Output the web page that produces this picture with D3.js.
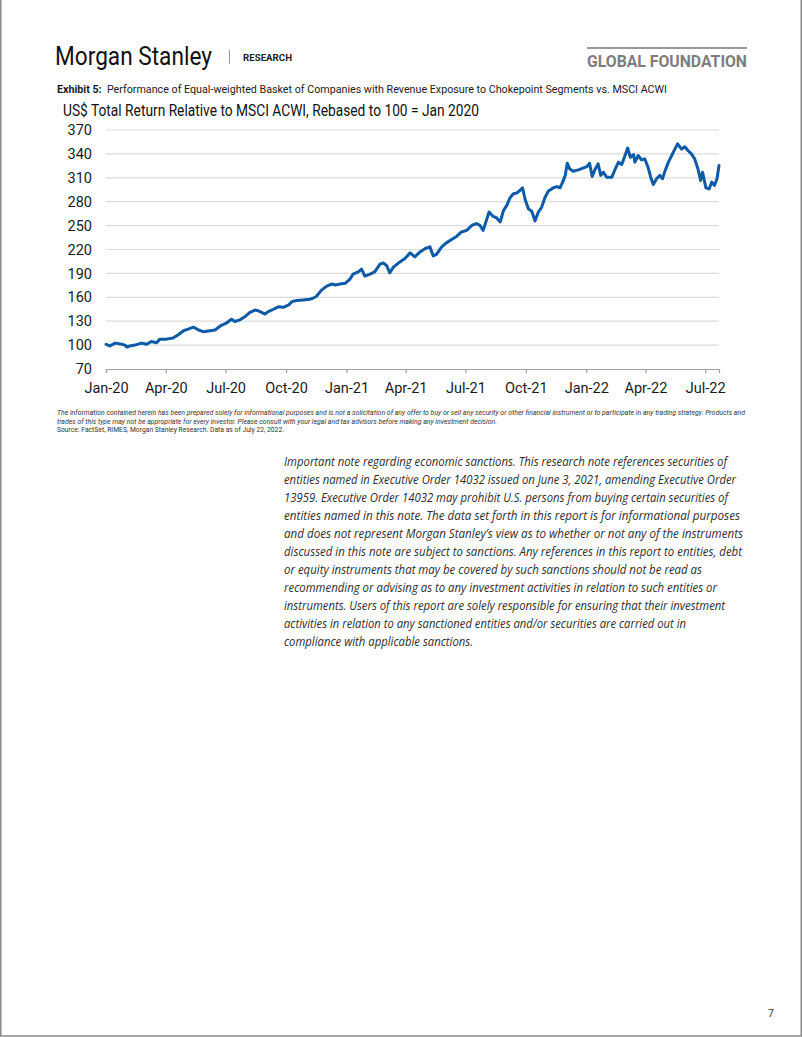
<!DOCTYPE html>
<html><head><meta charset="utf-8">
<script src="https://cdn.jsdelivr.net/npm/d3@7"></script>
<style>
html,body{margin:0;padding:0;background:#fff;}
svg{display:block;}
</style></head>
<body><svg id="page" width="802" height="1037"></svg>
<script>
const dates = ["2020-01-01","2020-01-07","2020-01-15","2020-01-25","2020-01-30","2020-02-02","2020-02-06","2020-02-14","2020-02-24","2020-03-03","2020-03-10","2020-03-18","2020-03-23","2020-04-02","2020-04-12","2020-04-20","2020-04-28","2020-05-05","2020-05-13","2020-05-21","2020-05-29","2020-06-07","2020-06-15","2020-06-23","2020-07-02","2020-07-10","2020-07-15","2020-07-23","2020-07-31","2020-08-07","2020-08-15","2020-08-20","2020-08-30","2020-09-04","2020-09-12","2020-09-19","2020-09-27","2020-10-05","2020-10-10","2020-10-17","2020-10-27","2020-11-06","2020-11-11","2020-11-16","2020-11-24","2020-12-02","2020-12-10","2020-12-15","2020-12-22","2020-12-30","2021-01-06","2021-01-11","2021-01-19","2021-01-24","2021-01-29","2021-02-06","2021-02-13","2021-02-21","2021-02-26","2021-03-03","2021-03-08","2021-03-13","2021-03-21","2021-03-31","2021-04-08","2021-04-15","2021-04-23","2021-05-01","2021-05-08","2021-05-13","2021-05-18","2021-05-26","2021-06-02","2021-06-10","2021-06-18","2021-06-25","2021-07-03","2021-07-11","2021-07-18","2021-07-23","2021-07-28","2021-08-02","2021-08-06","2021-08-12","2021-08-17","2021-08-23","2021-08-28","2021-09-02","2021-09-07","2021-09-12","2021-09-17","2021-09-22","2021-09-26","2021-09-30","2021-10-05","2021-10-10","2021-10-15","2021-10-20","2021-10-25","2021-10-30","2021-11-04","2021-11-12","2021-11-17","2021-11-22","2021-11-26","2021-11-30","2021-12-03","2021-12-07","2021-12-12","2021-12-20","2021-12-28","2022-01-02","2022-01-06","2022-01-10","2022-01-14","2022-01-19","2022-01-23","2022-01-27","2022-02-01","2022-02-09","2022-02-14","2022-02-19","2022-02-24","2022-03-01","2022-03-05","2022-03-09","2022-03-14","2022-03-16","2022-03-21","2022-03-26","2022-03-31","2022-04-05","2022-04-09","2022-04-13","2022-04-18","2022-04-23","2022-04-27","2022-05-01","2022-05-06","2022-05-11","2022-05-16","2022-05-20","2022-05-26","2022-05-31","2022-06-05","2022-06-10","2022-06-15","2022-06-20","2022-06-24","2022-06-27","2022-07-02","2022-07-07","2022-07-11","2022-07-15","2022-07-19","2022-07-22"];
const values = [101,99,102.5,101,100,97.5,99,100,102.5,101,104.6,103,107.5,107.5,109,113,118,120,122.5,119,116.7,118,119,124,127.5,132.5,129.6,131.7,136,141,144,143,139,142,145,148,147.5,150.4,154.6,156,156.7,157.5,158.8,161,169,174,176.7,175.4,176.7,177.5,182.5,189,192,195.4,186.7,189,192,201.7,203,200,190.8,197.5,203,208.7,215.8,210.8,217,221.3,223.3,212,214,223.3,228.3,232.5,236.7,242,244,250.4,252.5,250.4,244,256.7,267,261.7,260,254.6,269,275.4,285,290,290.8,294,297.5,282.5,271,268,255.8,267,273,285,293,297.5,299,297.5,304.6,313,328.3,321,318.3,320,322.5,324,328.3,311.7,320,327.5,313,317,310.8,310.8,321,329.6,326.7,338,347.5,335.8,339,329.6,338,332.5,333.8,323.3,310.8,301.7,308.8,313,308.8,319,329.6,338,346.3,352.5,346,349,344,340,333.8,321,306.7,317,297.5,296,304.6,300.4,308.8,325.4];
const yTicks = [70,100,130,160,190,220,250,280,310,340,370];
const xTickDates = ["2020-01-01","2020-04-01","2020-07-01","2020-10-01","2021-01-01","2021-04-01","2021-07-01","2021-10-01","2022-01-01","2022-04-01","2022-07-01"];
const xTickLabels = ["Jan-20","Apr-20","Jul-20","Oct-20","Jan-21","Apr-21","Jul-21","Oct-21","Jan-22","Apr-22","Jul-22"];
const xDomain = ["2020-01-01","2022-07-22"];
const yDomain = [70,370];

const sanctionLines = [
"Important note regarding economic sanctions. This research note references securities of",
"entities named in Executive Order 14032 issued on June 3, 2021, amending Executive Order",
"13959. Executive Order 14032 may prohibit U.S. persons from buying certain securities of",
"entities named in this note. The data set forth in this report is for informational purposes",
"and does not represent Morgan Stanley\u2019s view as to whether or not any of the instruments",
"discussed in this note are subject to sanctions. Any references in this report to entities, debt",
"or equity instruments that may be covered by such sanctions should not be read as",
"recommending or advising as to any investment activities in relation to such entities or",
"instruments. Users of this report are solely responsible for ensuring that their investment",
"activities in relation to any sanctioned entities and/or securities are carried out in",
"compliance with applicable sanctions."];
const sanctionWidths = [443,452,444,456,459,458,418,433,441,402,189];

const parse = d3.timeParse("%Y-%m-%d");
const data = dates.map((d,i)=>({date:parse(d), value:values[i]}));

const svg = d3.select("#page");
const F = "Roboto, 'Noto Sans', sans-serif";

// page border
svg.append("rect").attr("x",0.75).attr("y",-2).attr("width",800.5).attr("height",1038)
  .attr("fill","none").attr("stroke","#8a8a8a").attr("stroke-width",1.5);

function txt(x,y,s,size,opts={}){
  const t = svg.append("text").attr("x",x).attr("y",y).text(s)
    .attr("font-family",opts.family||F).attr("font-size",size)
    .attr("fill",opts.fill||"#1a1a1a");
  if(opts.weight) t.attr("font-weight",opts.weight);
  if(opts.style) t.attr("font-style",opts.style);
  if(opts.anchor) t.attr("text-anchor",opts.anchor);
  if(opts.w) t.attr("textLength",opts.w).attr("lengthAdjust","spacingAndGlyphs");
  return t;
}

// header
txt(55,65,"Morgan Stanley",25,{w:157,fill:"#111"});
svg.append("line").attr("x1",229.5).attr("x2",229.5).attr("y1",50).attr("y2",64).attr("stroke","#999").attr("stroke-width",1);
txt(243,61,"RESEARCH",9.5,{weight:"bold",w:49,fill:"#222"});
svg.append("line").attr("x1",587).attr("x2",747).attr("y1",48).attr("y2",48).attr("stroke","#9a9a9a").attr("stroke-width",2);
txt(587,67,"GLOBAL FOUNDATION",16.5,{weight:"bold",w:160,fill:"#7d7d7d"});

// exhibit line
const ex = svg.append("text").attr("x",57).attr("y",93).attr("font-family",F).attr("font-size",11).attr("fill","#1a1a1a")
  .attr("textLength",610).attr("lengthAdjust","spacingAndGlyphs");
ex.append("tspan").attr("font-weight","bold").text("Exhibit 5:");
ex.append("tspan").text("\u00a0 Performance of Equal-weighted Basket of Companies with Revenue Exposure to Chokepoint Segments vs. MSCI ACWI");

// chart title
txt(63,116,"US$ Total Return Relative to MSCI ACWI, Rebased to 100 = Jan 2020",16,{w:416,fill:"#111"});

// scales
const x = d3.scaleTime().domain(xDomain.map(parse)).range([106,719]);
const y = d3.scaleLinear().domain(yDomain).range([369,130]);

// gridlines
svg.append("g").selectAll("line").data(yTicks.filter(v=>v!==yDomain[0])).join("line")
  .attr("x1",106).attr("x2",719).attr("y1",d=>y(d)).attr("y2",d=>y(d))
  .attr("stroke","#dcdcdc").attr("stroke-width",1.2);

// y axis
const gy = svg.append("g").attr("transform","translate(106,0)")
  .call(d3.axisLeft(y).tickValues(yTicks).tickSize(0).tickPadding(14).tickFormat(d3.format("d")));
gy.select(".domain").remove();
gy.selectAll("text").attr("font-family",F).attr("font-size",14.5).attr("fill","#1a1a1a");

// x axis
const gx = svg.append("g").attr("transform","translate(0,369)")
  .call(d3.axisBottom(x).tickValues(xTickDates.map(parse)).tickSize(4).tickPadding(10)
    .tickFormat((d,i)=>xTickLabels[i]));
gx.select(".domain").attr("stroke","#a0a0a0").attr("stroke-width",1.2);
gx.selectAll(".tick line").attr("stroke","#a0a0a0").attr("stroke-width",1.2);
gx.selectAll("text").attr("font-family",F).attr("font-size",14.5).attr("fill","#1a1a1a");

// line
svg.append("path").datum(data)
  .attr("fill","none").attr("stroke","#0d5aa6").attr("stroke-width",3)
  .attr("stroke-linejoin","round").attr("stroke-linecap","round")
  .attr("d",d3.line().x(d=>x(d.date)).y(d=>y(d.value)));

// disclaimers
txt(57,415,"The information contained herein has been prepared solely for informational purposes and is not a solicitation of any offer to buy or sell any security or other financial instrument or to participate in any trading strategy. Products and",7,{style:"italic",w:688,fill:"#333"});
txt(57,423.5,"trades of this type may not be appropriate for every investor. Please consult with your legal and tax advisors before making any investment decision.",7,{style:"italic",w:440,fill:"#333"});
txt(57,432,"Source: FactSet, RIMES, Morgan Stanley Research. Data as of July 22, 2022.",7,{w:227,fill:"#333"});

// sanctions paragraph
sanctionLines.forEach((s,i)=>{
  txt(284,466+18*i,s,12,{family:"'Open Sans', 'Noto Sans', sans-serif",style:"italic",fill:"#2e2e2e",w:sanctionWidths[i]});
});

// page number
txt(771,1017,"7",10.5,{anchor:"middle",fill:"#333"});
</script>
</body></html>
